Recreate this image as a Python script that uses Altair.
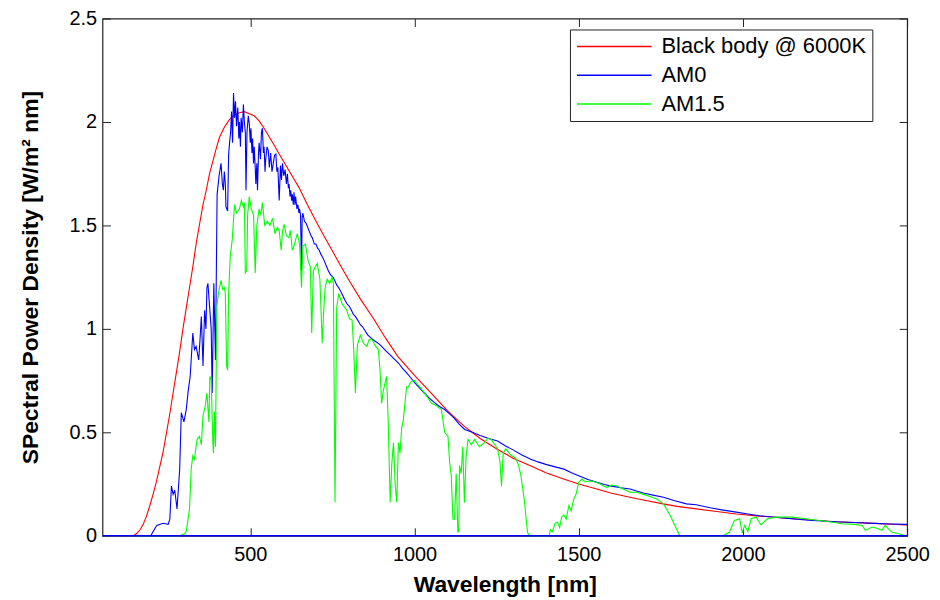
import altair as alt
import pandas as pd

# ---------------- data ----------------
SERIES = ["Black body @ 6000K", "AM0", "AM1.5"]
COLORS = ["#ff0000", "#0000ff", "#00ff00"]

bb_x = [50, 144, 155, 165, 174, 184, 194, 204, 214, 224, 234, 244, 254, 265, 275, 285,
        295, 305, 315, 325, 336, 346, 356, 366, 376, 386, 396, 406, 421, 436, 452, 467,
        482, 497, 512, 527, 542, 557, 572, 588, 603, 618, 633, 648, 674, 699, 724, 749,
        775, 800, 837, 875, 912, 949, 1000, 1050, 1100, 1151, 1200, 1252, 1300, 1353,
        1400, 1454, 1500, 1555, 1600, 1656, 1700, 1757, 1800, 1858, 1920, 1980, 2050,
        2131, 2200, 2282, 2400, 2500]
bb_y = [0, 0, 0.012, 0.03, 0.055, 0.095, 0.145, 0.2, 0.26, 0.33, 0.40, 0.49, 0.58, 0.69,
        0.79, 0.89, 1.0, 1.1, 1.2, 1.3, 1.42, 1.51, 1.6, 1.67, 1.75, 1.81, 1.87, 1.925,
        1.975, 2.01, 2.035, 2.045, 2.05, 2.04, 2.03, 2.005, 1.97, 1.93, 1.89, 1.845, 1.805,
        1.764, 1.724, 1.684, 1.60, 1.524, 1.45, 1.38, 1.305, 1.236, 1.14, 1.05, 0.955,
        0.867, 0.775, 0.691, 0.605, 0.53, 0.47, 0.418, 0.375, 0.338, 0.305, 0.274, 0.25,
        0.226, 0.205, 0.186, 0.172, 0.154, 0.142, 0.13, 0.117, 0.105, 0.095, 0.085, 0.077,
        0.068, 0.06, 0.052]

am0_x = [197, 215, 235, 250, 255, 260, 265, 270, 277, 285, 290, 298, 305, 311, 317, 325,
         330, 335, 343, 347, 351, 356, 361, 365, 368, 371, 376, 381, 384, 389, 394, 399,
         405, 411, 415, 418, 421, 424, 426, 431, 434, 437, 440, 443, 446, 449, 452, 455,
         458, 462, 465, 467, 470, 472, 476, 479, 482, 485, 487, 490, 494, 497, 500, 502,
         505, 507, 510, 512, 515, 517, 520, 522, 525, 527, 531, 534, 537, 540, 542, 545,
         547, 551, 555, 558, 562, 566, 570, 574, 578, 581, 584, 588, 592, 595, 598, 602,
         606, 610, 613, 616, 618, 621, 623, 626, 628, 631, 633, 636, 638, 642, 645, 648,
         650, 653, 656, 658, 660, 665, 670, 675, 680, 685, 689, 695, 700, 705, 710, 715,
         719, 725, 730, 738, 745, 752, 758, 764, 769, 776, 782, 788, 795, 801, 808, 814,
         820, 828, 835, 842, 850, 858, 865, 872, 880, 890, 900, 912, 925, 938, 951, 963,
         975, 988, 1001, 1015, 1030, 1045, 1060, 1076, 1092, 1106, 1120, 1136, 1153, 1176,
         1200, 1226, 1253, 1276, 1300, 1327, 1354, 1376, 1400, 1428, 1455, 1478, 1500, 1528,
         1556, 1578, 1600, 1628, 1657, 1678, 1700, 1730, 1758, 1790, 1828, 1858, 1900, 1940,
         1980, 2015, 2050, 2090, 2131, 2165, 2200, 2240, 2282, 2340, 2400, 2450, 2500]
am0_y = [0, 0.05, 0.06, 0.055, 0.08, 0.24, 0.20, 0.22, 0.13, 0.32, 0.595, 0.55, 0.61, 0.70,
         0.77, 0.98, 0.90, 0.915, 0.85, 0.95, 1.06, 0.82, 1.09, 1.0, 1.20, 1.22, 1.11, 1.0,
         0.69, 1.22, 0.85, 1.65, 1.74, 1.80, 1.70, 1.67, 1.76, 1.70, 1.59, 1.57, 1.84, 1.90,
         1.95, 2.05, 1.90, 2.14, 2.02, 2.10, 1.98, 2.07, 1.92, 2.0, 1.88, 2.02, 1.95, 2.085,
         2.0, 1.95, 1.67, 1.95, 2.03, 1.99, 1.90, 1.97, 1.85, 1.92, 1.80, 1.88, 1.78, 1.70,
         1.80, 1.67, 1.85, 1.90, 1.82, 1.95, 1.97, 1.85, 1.88, 1.76, 1.82, 1.88, 1.86, 1.78,
         1.85, 1.76, 1.80, 1.84, 1.845, 1.76, 1.78, 1.62, 1.79, 1.72, 1.80, 1.74, 1.77, 1.70,
         1.75, 1.68, 1.70, 1.64, 1.67, 1.62, 1.65, 1.60, 1.66, 1.60, 1.64, 1.58, 1.60, 1.56,
         1.58, 1.55, 1.28, 1.54, 1.56, 1.52, 1.51, 1.49, 1.47, 1.45, 1.44, 1.41, 1.41, 1.39,
         1.38, 1.36, 1.35, 1.33, 1.31, 1.28, 1.26, 1.25, 1.23, 1.21, 1.20, 1.18, 1.16, 1.14,
         1.12, 1.11, 1.09, 1.07, 1.06, 1.04, 1.02, 1.01, 0.99, 0.97, 0.96, 0.95, 0.94, 0.93,
         0.915, 0.895, 0.875, 0.855, 0.835, 0.81, 0.79, 0.765, 0.739, 0.715, 0.69, 0.665,
         0.645, 0.625, 0.61, 0.59, 0.57, 0.54, 0.514, 0.50, 0.485, 0.47, 0.458, 0.435,
         0.415, 0.39, 0.37, 0.357, 0.345, 0.333, 0.322, 0.305, 0.29, 0.272, 0.258, 0.248,
         0.24, 0.232, 0.226, 0.215, 0.205, 0.195, 0.186, 0.17, 0.154, 0.15, 0.135, 0.124,
         0.114, 0.105, 0.097, 0.091, 0.085, 0.08, 0.075, 0.071, 0.068, 0.064, 0.06, 0.057,
         0.055]

am15_x = [50, 285, 300, 305, 315, 320, 325, 330, 338, 345, 351, 356, 362, 368, 374, 377,
          381, 386, 388, 391, 394, 398, 404, 411, 416, 421, 424, 428, 431, 434, 439, 445,
          452, 458, 467, 473, 479, 482, 485, 489, 492, 497, 503, 510, 515, 520, 527, 532,
          537, 544, 552, 560, 568, 575, 582, 588, 594, 598, 603, 610, 618, 622, 628, 633,
          643, 650, 656, 660, 668, 676, 683, 687, 692, 698, 704, 712, 719, 724, 728, 734,
          742, 749, 753, 758, 763, 769, 780, 794, 802, 810, 815, 820, 826, 835, 845, 855,
          862, 870, 880, 890, 895, 900, 905, 915, 920, 926, 931, 936, 941, 946, 951, 956,
          961, 966, 976, 981, 991, 1000, 1010, 1021, 1035, 1052, 1065, 1082, 1092, 1102,
          1107, 1112, 1117, 1122, 1127, 1132, 1135, 1137, 1142, 1147, 1152, 1157, 1163,
          1173, 1183, 1198, 1213, 1223, 1233, 1245, 1253, 1260, 1265, 1270, 1278, 1293,
          1308, 1317, 1324, 1334, 1344, 1349, 1410, 1414, 1420, 1428, 1435, 1442, 1448,
          1455, 1462, 1470, 1477, 1485, 1492, 1500, 1510, 1520, 1535, 1550, 1566, 1575,
          1586, 1600, 1616, 1630, 1657, 1677, 1697, 1717, 1737, 1758, 1778, 1793, 1808,
          1939, 1959, 1974, 1990, 1998, 2005, 2015, 2025, 2040, 2055, 2075, 2101, 2151,
          2202, 2252, 2302, 2340, 2363, 2373, 2393, 2410, 2423, 2433, 2453, 2474, 2494, 2500]
am15_y = [0, 0, 0.01, 0.02, 0.13, 0.32, 0.386, 0.37, 0.466, 0.48, 0.44, 0.58, 0.62, 0.69,
          0.55, 0.77, 0.755, 0.45, 0.40, 0.60, 0.43, 1.107, 1.18, 1.235, 1.19, 1.20, 1.17,
          0.82, 0.80, 1.17, 1.35, 1.43, 1.60, 1.56, 1.58, 1.62, 1.59, 1.61, 1.27, 1.28, 1.55,
          1.64, 1.58, 1.55, 1.27, 1.50, 1.58, 1.55, 1.61, 1.50, 1.52, 1.50, 1.535, 1.46,
          1.49, 1.476, 1.38, 1.47, 1.505, 1.45, 1.44, 1.476, 1.38, 1.40, 1.46, 1.41, 1.20,
          1.40, 1.41, 1.33, 1.30, 0.98, 1.28, 1.30, 1.316, 1.24, 0.93, 1.10, 1.20, 1.24,
          1.22, 1.25, 1.22, 0.162, 1.10, 1.17, 1.12, 1.09, 1.05, 1.043, 0.90, 0.69, 0.92,
          0.97, 0.93, 0.915, 0.95, 0.95, 0.92, 0.90, 0.80, 0.64, 0.70, 0.77, 0.55, 0.162,
          0.35, 0.45, 0.25, 0.162, 0.45, 0.40, 0.52, 0.56, 0.72, 0.72, 0.747, 0.75, 0.73,
          0.71, 0.68, 0.64, 0.63, 0.61, 0.50, 0.48, 0.354, 0.29, 0.08, 0.08, 0.30, 0.018,
          0.02, 0.34, 0.30, 0.43, 0.16, 0.38, 0.466, 0.44, 0.466, 0.43, 0.45, 0.47, 0.466,
          0.44, 0.42, 0.36, 0.24, 0.40, 0.42, 0.39, 0.375, 0.34, 0.29, 0.178, 0.018, 0, 0,
          0.03, 0.02, 0.06, 0.066, 0.04, 0.09, 0.10, 0.08, 0.146, 0.12, 0.178, 0.20, 0.258,
          0.274, 0.26, 0.266, 0.26, 0.25, 0.24, 0.234, 0.245, 0.242, 0.23, 0.21, 0.21, 0.20,
          0.19, 0.178, 0.154, 0.10, 0.05, 0, 0, 0.018, 0.074, 0.082, 0.014, 0.05, 0.02,
          0.082, 0.09, 0.053, 0.082, 0.09, 0.09, 0.08, 0.07, 0.058, 0.055, 0.05, 0.026,
          0.042, 0.035, 0.026, 0.05, 0.018, 0.01, 0, 0]

# flat AM0 trace lying on the wavelength axis
base_x = [50]
base_x2 = [2500]
base_y = [0]

X_TICKS = [500, 1000, 1500, 2000, 2500]
Y_TICKS = [0, 0.5, 1, 1.5, 2, 2.5]
X_DOMAIN = [50, 2500]
Y_DOMAIN = [0, 2.5]

# ---------------- tables ----------------
df_bb = pd.DataFrame({"wl": bb_x, "p": bb_y, "series": SERIES[0]})
df_am0 = pd.DataFrame({"wl": am0_x, "p": am0_y, "series": SERIES[1]})
df_am15 = pd.DataFrame({"wl": am15_x, "p": am15_y, "series": SERIES[2]})
df_base = pd.DataFrame({"x0": base_x, "x1": base_x2, "y0": base_y})

FONT = "Liberation Sans"

xscale = alt.Scale(domain=X_DOMAIN, nice=False, zero=False)
yscale = alt.Scale(domain=Y_DOMAIN, nice=False)
cscale = alt.Scale(domain=SERIES, range=COLORS)

legend = alt.Legend(
    orient="none", legendX=470, legendY=11, direction="vertical",
    symbolType="stroke", symbolSize=5625, symbolStrokeWidth=1.5,
    clipHeight=22, rowPadding=7, padding=6,
    strokeColor="#222222", fillColor="white",
    labelFont=FONT, labelFontSize=22, labelColor="black",
    labelLimit=400, labelOffset=9,
)

common_axis = dict(
    domain=False, grid=False, ticks=True, tickSize=8, offset=-8,
    tickColor="#222222", tickWidth=1,
    labelFont=FONT, labelFontSize=20, labelColor="black",
    titleFont=FONT, titleFontSize=23, titleFontWeight="bold", titleColor="black",
)

x_axis_bottom = alt.Axis(orient="bottom", values=X_TICKS, format="d", labelFlush=False,
                         labelPadding=9, title="Wavelength [nm]",
                         titleBaseline="alphabetic", titleY=64, **common_axis)
y_axis_left = alt.Axis(orient="left", values=Y_TICKS, format="~g", labelPadding=6,
                       title="SPectral Power Density [W/m² nm]",
                       titleBaseline="alphabetic", titleX=-73, **common_axis)

top_right_common = dict(domain=False, grid=False, ticks=True, tickSize=8, offset=-8,
                        tickColor="#222222", tickWidth=1, labels=False)
x_axis_top = alt.Axis(orient="top", values=X_TICKS, **top_right_common)
y_axis_right = alt.Axis(orient="right", values=Y_TICKS, **top_right_common)


def line_layer(df, with_axes):
    x_enc = alt.X("wl:Q", scale=xscale,
                  axis=x_axis_bottom if with_axes else None)
    y_enc = alt.Y("p:Q", scale=yscale,
                  axis=y_axis_left if with_axes else None)
    return alt.Chart(df).mark_line(strokeWidth=1.1, interpolate="linear").encode(
        x=x_enc, y=y_enc,
        color=alt.Color("series:N", scale=cscale, legend=legend, title=None),
    )


red = line_layer(df_bb, True)
blue = line_layer(df_am0, False)
green = line_layer(df_am15, False)

base = alt.Chart(df_base).mark_rule(color="#0000ff", strokeWidth=1.5).encode(
    x=alt.X("x0:Q", scale=xscale, axis=x_axis_top, title=None),
    x2="x1:Q",
    y=alt.Y("y0:Q", scale=yscale, axis=y_axis_right, title=None),
)

chart = (
    alt.layer(red, blue, green, base)
    .resolve_axis(x="independent", y="independent")
    .properties(
        width=809, height=520,
        padding={"left": 95, "top": 9, "right": 25, "bottom": 63},
        autosize=alt.AutoSizeParams(type="none"),
        background="white",
    )
    .configure_view(stroke="#222222", strokeWidth=1.2)
)

chart.save("out.html", embed_options={"renderer": "svg", "actions": False})
